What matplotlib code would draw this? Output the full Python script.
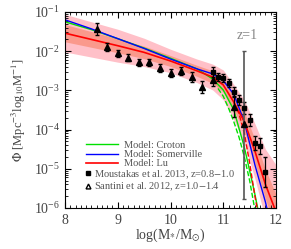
import numpy as np
import matplotlib
matplotlib.use('Agg')
import matplotlib.pyplot as plt
from matplotlib.lines import Line2D

plt.rcParams['font.family'] = ['Liberation Serif', 'DejaVu Serif']
plt.rcParams['mathtext.fontset'] = 'stix'

# model curves, log10(phi)
mass = [8.0, 8.5, 9.0, 9.5, 10.0, 10.5, 10.8, 11.0, 11.2, 11.4, 11.6, 11.8, 12.0]
croton = [-1.25, -1.45, -1.68, -1.92, -2.18, -2.45, -2.71, -2.99, -3.5, -4.45, -5.65, -7.0, -8.0]
somerville = [-1.2, -1.43, -1.68, -1.93, -2.2, -2.45, -2.58, -2.75, -3.1, -3.8, -4.9, -5.85, -7.0]
lu = [-1.54, -1.7, -1.86, -2.03, -2.25, -2.5, -2.66, -2.86, -3.3, -3.8, -4.55, -5.4, -6.1]

# dashed variants at the massive end
croton_d_mass = [10.9, 11.0, 11.1, 11.2, 11.3, 11.4, 11.5, 11.6]
croton_d = [-2.95, -3.15, -3.45, -3.8, -4.2, -4.7, -5.3, -6.05]
lu_d_mass = [11.2, 11.3, 11.4, 11.5, 11.6, 11.67]
lu_d = [-3.3, -3.6, -4.1, -4.85, -5.7, -6.2]

# uncertainty bands around Lu (half widths in dex)
band_wide = [0.48, 0.45, 0.42, 0.36, 0.3, 0.3, 0.33, 0.38, 0.45, 0.55, 0.7, 0.9, 1.2]
band_narrow = [0.22, 0.2, 0.18, 0.16, 0.14, 0.14, 0.16, 0.18, 0.2, 0.25, 0.3, 0.38, 0.45]

# Moustakas et al. 2013
mous_m = [10.8, 10.9, 11.0, 11.1, 11.2, 11.3, 11.4, 11.5, 11.6, 11.7, 11.8]
mous_phi = [-2.53, -2.66, -2.68, -2.81, -3.04, -3.24, -3.45, -3.76, -4.34, -4.42, -5.08]
mous_err = [0.12, 0.1, 0.1, 0.1, 0.12, 0.12, 0.15, 0.15, 0.18, 0.2, 0.38]

# Santini et al. 2012
sant_m = [8.6, 8.8, 9.0, 9.2, 9.4, 9.6, 9.8, 10.0, 10.2, 10.4, 10.6, 10.8, 11.2]
sant_phi = [-1.43, -1.89, -2.05, -2.17, -2.28, -2.28, -2.43, -2.56, -2.51, -2.66, -2.91, -2.73, -3.42]
sant_err = [0.15, 0.1, 0.09, 0.09, 0.09, 0.09, 0.1, 0.1, 0.1, 0.12, 0.15, 0.15, 0.27]
last_m, last_phi, last_lo, last_hi = 11.4, -3.86, -5.77, -2.0

mass = np.array(mass)
lu_a = np.array(lu)

fig = plt.figure(figsize=(2.91, 2.49), dpi=100)
ax = fig.add_axes([0.2234, 0.1647, 0.7251, 0.7871])

ax.fill_between(mass, 10**(lu_a - band_wide), 10**(lu_a + np.array(band_wide)),
                color='#ffc0c8', lw=0)
ax.fill_between(mass, 10**(lu_a - band_narrow), 10**(lu_a + np.array(band_narrow)),
                color='#f98c78', alpha=0.75, lw=0)

ax.plot(mass, 10**np.array(croton), color='#00e000', lw=1)
ax.plot(croton_d_mass, 10**np.array(croton_d), color='#00e000', lw=1, ls='--')
ax.plot(mass, 10**np.array(somerville), color='#0000ff', lw=1)
ax.plot(mass, 10**lu_a, color='#ff0000', lw=1.2)
ax.plot(lu_d_mass, 10**np.array(lu_d), color='#ff0000', lw=1, ls='--')

mp = np.array(mous_phi); me = np.array(mous_err)
ax.errorbar(mous_m, 10**mp, yerr=[10**mp - 10**(mp - me), 10**(mp + me) - 10**mp],
            fmt='s', color='black', ms=3.5, elinewidth=0.9, capsize=1.5)
sp = np.array(sant_phi); se = np.array(sant_err)
ax.errorbar(sant_m, 10**sp, yerr=[10**sp - 10**(sp - se), 10**(sp + se) - 10**sp],
            fmt='^', color='black', ms=4, elinewidth=0.9, capsize=1.5)
ax.errorbar([last_m], [10**last_phi],
            yerr=[[10**last_phi - 10**last_lo], [10**last_hi - 10**last_phi]],
            fmt='none', ecolor='#555555', elinewidth=1.2, capsize=1.5)
ax.plot([last_m], [10**last_phi], '^', color='black', ms=4)

ax.set_yscale('log')
ax.set_xlim(8, 12)
ax.set_ylim(1e-6, 1e-1)
ax.set_xticks([8, 9, 10, 11, 12])
ax.set_xticks(np.arange(8, 12.01, 0.1), minor=True)
ax.tick_params(which='both', direction='in', top=True, right=True, labelsize=10,
               labelcolor='#444444')
ax.tick_params(which='major', length=4, width=0.8)
ax.tick_params(which='minor', length=2, width=0.6)
ax.tick_params(axis='x', pad=4)

ax.set_xlabel(r'log(M$_{*}$/M$_{\odot}$)', fontsize=10, color='#444444', labelpad=0)
ax.set_ylabel(r'$\Phi$ [Mpc$^{-3}$log$_{10}$M$^{-1}$]', fontsize=9, color='#444444',
              labelpad=4)
ax.text(11.45, 10**-1.6, 'z=1', fontsize=10, color='#888888', ha='center', va='center')

h1 = [Line2D([], [], color='#00e000', lw=1),
      Line2D([], [], color='#0000ff', lw=1),
      Line2D([], [], color='#ff0000', lw=1.2)]
leg1 = ax.legend(h1, ['Model: Croton', 'Model: Somerville', 'Model: Lu'],
                 loc='lower left', bbox_to_anchor=(0.075, 0.175), frameon=False,
                 fontsize=7.5, handlelength=3.1, handletextpad=0.5, labelspacing=0.0,
                 borderpad=0, labelcolor='#555555')
ax.add_artist(leg1)
h2 = [Line2D([], [], marker='s', ls='', color='black', ms=3),
      Line2D([], [], marker='^', ls='', color='black', mfc='none', ms=3.5)]
ax.legend(h2, [r'Moustakas et al. 2013, z=0.8$-$1.0', r'Santini et al. 2012, z=1.0$-$1.4'],
          loc='lower left', bbox_to_anchor=(0.07, 0.05), frameon=False,
          fontsize=7.5, handlelength=0.6, handletextpad=0.25, labelspacing=0.0,
          borderpad=0, labelcolor='#555555')

fig.savefig('out.png', dpi=100)
